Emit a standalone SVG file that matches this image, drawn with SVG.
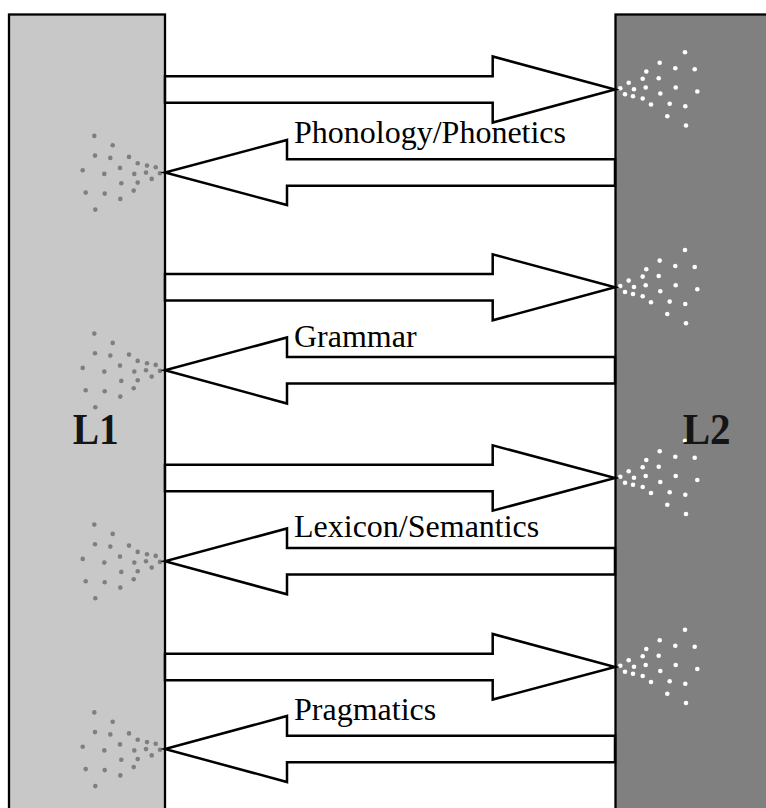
<svg xmlns="http://www.w3.org/2000/svg" xmlns:xlink="http://www.w3.org/1999/xlink" width="766" height="808" viewBox="0 0 766 808">
<style>
.box{stroke:#000;stroke-width:2.3}
.l1{fill:#c8c8c8}
.l2{fill:#808080}
.name{font-family:"Liberation Serif","Times New Roman",serif;font-weight:bold;font-size:44px;fill:#151515}
.arrow{fill:#fff;stroke:#000;stroke-width:2.5;stroke-linejoin:miter}
.lbl{font-family:"Liberation Serif","Times New Roman",serif;font-size:32px;fill:#000}
.dg circle{fill:#7f7f7f;r:2.3px}
.dw circle{fill:#fff;r:2.3px}
</style>
<defs>
<g id="dotsL" class="dg">
<circle cx="-70.7" cy="-36.6" r="2.3"/><circle cx="-52.3" cy="-27.3" r="2.3"/><circle cx="-70" cy="-16.9" r="2.3"/><circle cx="-54.7" cy="-14.6" r="2.3"/><circle cx="-36" cy="-15.6" r="2.3"/><circle cx="-27.3" cy="-9.3" r="2.3"/><circle cx="-18" cy="-6.9" r="2.3"/><circle cx="-9.3" cy="-5.3" r="2.3"/><circle cx="-82.3" cy="-2.3" r="2.3"/><circle cx="-60.7" cy="1.4" r="2.3"/><circle cx="-45" cy="-4.6" r="2.3"/><circle cx="-30.7" cy="1.4" r="2.3"/><circle cx="-19" cy="0.1" r="2.3"/><circle cx="-5" cy="0.7" r="2.3"/><circle cx="-13.3" cy="6.4" r="2.3"/><circle cx="-43.7" cy="10.7" r="2.3"/><circle cx="-27.3" cy="10.1" r="2.3"/><circle cx="-31.3" cy="18.1" r="2.3"/><circle cx="-79.3" cy="20.1" r="2.3"/><circle cx="-60.3" cy="21.1" r="2.3"/><circle cx="-44.7" cy="26.4" r="2.3"/><circle cx="-69.7" cy="37.1" r="2.3"/>
</g>
<g id="dotsR" class="dw">
<circle cx="70" cy="-37.3" r="2.3"/><circle cx="44.7" cy="-26.7" r="2.3"/><circle cx="60.3" cy="-21.3" r="2.3"/><circle cx="79.7" cy="-20.3" r="2.3"/><circle cx="31.3" cy="-18" r="2.3"/><circle cx="27.7" cy="-10.7" r="2.3"/><circle cx="43.7" cy="-11.3" r="2.3"/><circle cx="13.7" cy="-6.7" r="2.3"/><circle cx="30.7" cy="-2" r="2.3"/><circle cx="60.7" cy="-2" r="2.3"/><circle cx="5.3" cy="-1.3" r="2.3"/><circle cx="19" cy="-0.3" r="2.3"/><circle cx="82.3" cy="2" r="2.3"/><circle cx="10" cy="4.7" r="2.3"/><circle cx="18" cy="6.7" r="2.3"/><circle cx="45.3" cy="4" r="2.3"/><circle cx="27.7" cy="9" r="2.3"/><circle cx="36" cy="15" r="2.3"/><circle cx="54.7" cy="14.3" r="2.3"/><circle cx="70.3" cy="16.7" r="2.3"/><circle cx="52.3" cy="26.7" r="2.3"/><circle cx="71" cy="36" r="2.3"/>
</g>
</defs>
<rect width="766" height="808" fill="#fff"/>
<g id="L1">
<rect class="box l1" x="9" y="14.5" width="156" height="820"/>
<use xlink:href="#dotsL" transform="translate(165,172.5)"/>
<use xlink:href="#dotsL" transform="translate(165,370.2)"/>
<use xlink:href="#dotsL" transform="translate(165,561.2)"/>
<use xlink:href="#dotsL" transform="translate(165,749)"/>
<text class="name" x="72.7" y="444" textLength="46" lengthAdjust="spacingAndGlyphs">L1</text>
</g>
<g id="L2">
<rect class="box l2" x="615.5" y="14.5" width="170" height="820"/>
<use xlink:href="#dotsR" transform="translate(615,89.5)"/>
<use xlink:href="#dotsR" transform="translate(615,287.3)"/>
<use xlink:href="#dotsR" transform="translate(615,478)"/>
<use xlink:href="#dotsR" transform="translate(615,667)"/>
<text class="name" x="682.7" y="443.5" textLength="48" lengthAdjust="spacingAndGlyphs">L2</text>
</g>
<g id="connectors">
<polygon class="arrow" points="165,76.3 492.7,76.3 492.7,56.5 615,89.5 492.7,122.5 492.7,102.7 165,102.7"/>
<polygon class="arrow" points="615,159.3 287,159.3 287,140 165,172.5 287,205 287,185.7 615,185.7"/>
<polygon class="arrow" points="165,274.1 492.7,274.1 492.7,254.3 615,287.3 492.7,320.3 492.7,300.5 165,300.5"/>
<polygon class="arrow" points="615,357 287,357 287,337.5 165,370.2 287,403.5 287,383.4 615,383.4"/>
<polygon class="arrow" points="165,464.8 492.7,464.8 492.7,445.3 615,478 492.7,510.7 492.7,491.2 165,491.2"/>
<polygon class="arrow" points="615,548 287,548 287,528.5 165,561.2 287,594.3 287,574.4 615,574.4"/>
<polygon class="arrow" points="165,653.8 492.7,653.8 492.7,634 615,667 492.7,699.5 492.7,680.2 165,680.2"/>
<polygon class="arrow" points="615,735.8 287,735.8 287,716 165,749 287,782 287,762.2 615,762.2"/>
<text class="lbl" x="294" y="143.3">Phonology/Phonetics</text>
<text class="lbl" x="294" y="346.7">Grammar</text>
<text class="lbl" x="294" y="536.7">Lexicon/Semantics</text>
<text class="lbl" x="294" y="720">Pragmatics</text>
</g>
</svg>
